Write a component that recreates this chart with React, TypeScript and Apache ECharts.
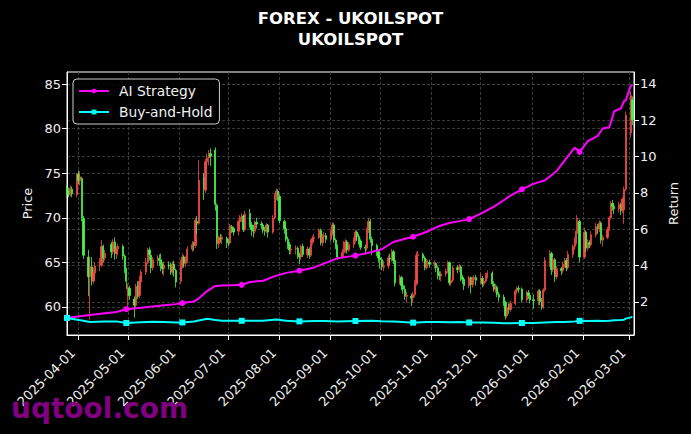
import React, { useEffect, useRef } from 'react';
import * as echarts from 'echarts';

// ---- candlestick data (daily) ----
const dates = [
  '2025-03-25','2025-03-26','2025-03-27','2025-03-28','2025-03-31',
  '2025-04-01','2025-04-02','2025-04-03','2025-04-04','2025-04-07','2025-04-08','2025-04-09','2025-04-10','2025-04-11',
  '2025-04-14','2025-04-15','2025-04-16','2025-04-17','2025-04-21','2025-04-22','2025-04-23','2025-04-24','2025-04-25',
  '2025-04-28','2025-04-29','2025-04-30',
  '2025-05-01','2025-05-02','2025-05-05','2025-05-06','2025-05-07','2025-05-08','2025-05-09','2025-05-12','2025-05-13',
  '2025-05-14','2025-05-15','2025-05-16','2025-05-19','2025-05-20','2025-05-21','2025-05-22','2025-05-23','2025-05-26',
  '2025-05-27','2025-05-28','2025-05-29','2025-05-30',
  '2025-06-02','2025-06-03','2025-06-04','2025-06-05','2025-06-06','2025-06-09','2025-06-10','2025-06-11','2025-06-12',
  '2025-06-13','2025-06-16','2025-06-17','2025-06-18','2025-06-19','2025-06-20','2025-06-23','2025-06-24','2025-06-25',
  '2025-06-26','2025-06-27','2025-06-30',
  '2025-07-01','2025-07-02','2025-07-03','2025-07-04','2025-07-07','2025-07-08','2025-07-09','2025-07-10','2025-07-11',
  '2025-07-14','2025-07-15','2025-07-16','2025-07-17','2025-07-18','2025-07-21','2025-07-22','2025-07-23','2025-07-24',
  '2025-07-25','2025-07-28','2025-07-29','2025-07-30','2025-07-31',
  '2025-08-01','2025-08-04','2025-08-05','2025-08-06','2025-08-07','2025-08-08','2025-08-11','2025-08-12','2025-08-13',
  '2025-08-14','2025-08-15','2025-08-18','2025-08-19','2025-08-20','2025-08-21','2025-08-22','2025-08-25','2025-08-26',
  '2025-08-27','2025-08-28','2025-08-29',
  '2025-09-01','2025-09-02','2025-09-03','2025-09-04','2025-09-05','2025-09-08','2025-09-09','2025-09-10','2025-09-11',
  '2025-09-12','2025-09-15','2025-09-16','2025-09-17','2025-09-18','2025-09-19','2025-09-22','2025-09-23','2025-09-24',
  '2025-09-25','2025-09-26','2025-09-29','2025-09-30',
  '2025-10-01','2025-10-02','2025-10-03','2025-10-06','2025-10-07','2025-10-08','2025-10-09','2025-10-10','2025-10-13',
  '2025-10-14','2025-10-15','2025-10-16','2025-10-17','2025-10-20','2025-10-21','2025-10-22','2025-10-23','2025-10-24',
  '2025-10-27','2025-10-28','2025-10-29','2025-10-30','2025-10-31',
  '2025-11-03','2025-11-04','2025-11-05','2025-11-06','2025-11-07','2025-11-10','2025-11-11','2025-11-12','2025-11-13',
  '2025-11-14','2025-11-17','2025-11-18','2025-11-19','2025-11-20','2025-11-21','2025-11-24','2025-11-25','2025-11-26',
  '2025-11-27','2025-11-28',
  '2025-12-01','2025-12-02','2025-12-03','2025-12-04','2025-12-05','2025-12-08','2025-12-09','2025-12-10','2025-12-11',
  '2025-12-12','2025-12-15','2025-12-16','2025-12-17','2025-12-18','2025-12-19','2025-12-22','2025-12-23','2025-12-24',
  '2025-12-26','2025-12-29','2025-12-30','2025-12-31',
  '2026-01-02','2026-01-05','2026-01-06','2026-01-07','2026-01-08','2026-01-09','2026-01-12','2026-01-13','2026-01-14',
  '2026-01-15','2026-01-16','2026-01-19','2026-01-20','2026-01-21','2026-01-22','2026-01-23','2026-01-26','2026-01-27',
  '2026-01-28','2026-01-29','2026-01-30',
  '2026-02-02','2026-02-03','2026-02-04','2026-02-05','2026-02-06','2026-02-09','2026-02-10','2026-02-11','2026-02-12',
  '2026-02-13','2026-02-16','2026-02-17','2026-02-18','2026-02-19','2026-02-20','2026-02-23','2026-02-24','2026-02-25',
  '2026-02-26','2026-02-27',
  '2026-03-02','2026-03-03',
];

const opens = [
  73.4,73.0,72.6,73.2,72.6,
  74.9,74.2,74.4,69.9,65.6,63.4,64.5,62.9,63.8,
  64.7,64.7,66.8,65.5,67.0,66.2,67.3,66.0,66.5,
  66.8,65.7,64.2,
  61.2,62.1,60.9,60.2,62.4,61.3,62.8,63.9,65.0,
  66.4,65.8,64.4,65.3,65.4,65.3,64.8,64.3,64.7,
  64.6,63.9,64.8,64.1,
  62.9,64.6,65.6,64.9,65.3,66.5,67.0,66.9,69.6,
  69.4,74.5,73.1,76.3,76.7,77.2,77.6,71.4,67.1,
  67.7,67.6,67.7,
  67.3,67.2,69.0,68.8,68.5,69.6,70.1,70.2,68.7,
  70.5,69.2,68.7,68.5,69.5,69.3,69.2,68.6,68.5,
  69.2,68.4,70.0,72.5,73.0,
  72.4,69.6,68.8,67.6,67.0,66.4,66.5,66.6,65.8,
  65.6,66.8,65.9,66.5,65.8,67.4,67.7,67.8,68.6,
  67.2,67.9,68.0,
  67.6,68.2,69.2,67.5,66.8,65.6,66.1,66.4,67.3,
  66.4,67.0,67.5,68.4,67.9,67.4,66.7,66.6,68.6,
  69.6,67.6,66.9,66.2,
  65.5,65.3,64.5,64.6,65.5,65.4,66.2,65.2,62.7,
  63.3,62.4,62.0,61.2,61.2,61.0,61.4,62.6,65.8,
  65.9,65.5,64.4,64.9,65.0,
  64.8,64.9,64.4,63.6,63.5,63.7,64.0,65.0,62.7,
  63.0,64.4,64.2,64.5,63.3,63.1,62.4,63.3,62.5,
  63.1,63.3,
  63.0,63.2,62.6,62.9,63.5,63.8,62.6,62.0,62.2,
  61.4,61.1,60.5,59.0,59.9,59.7,60.4,61.8,62.1,
  62.0,60.8,61.6,61.3,
  60.8,60.7,61.8,60.6,60.0,61.9,65.2,66.0,64.2,
  65.3,63.4,64.3,64.1,64.8,65.2,64.4,65.9,66.8,
  67.4,68.5,69.6,
  65.6,68.4,66.6,67.2,67.0,68.1,69.0,68.8,69.4,
  67.5,67.8,68.7,70.0,71.6,71.3,71.0,71.5,70.8,
  70.9,73.2,
  79.5,83.2,
];

const closes = [
  72.9,72.6,73.3,72.7,74.8,
  74.2,74.6,70.0,65.8,63.4,64.5,62.9,63.8,64.6,
  64.7,66.8,65.5,66.0,66.2,67.3,66.0,66.5,66.8,
  65.7,64.2,62.9,
  62.2,61.3,60.2,62.3,61.2,62.9,63.9,65.0,66.4,
  65.9,64.4,65.3,65.5,65.2,64.8,64.3,64.7,64.6,
  63.9,64.8,64.2,62.8,
  64.6,65.6,64.9,65.3,66.5,67.0,66.9,69.7,69.4,
  74.2,73.2,76.3,76.7,77.2,76.9,71.5,67.1,67.8,
  67.6,67.8,67.3,
  67.2,69.1,68.8,68.4,69.6,70.1,70.2,68.7,70.4,
  69.2,68.7,68.5,69.5,69.3,69.2,68.6,68.5,69.2,
  68.4,70.0,72.5,73.0,72.5,
  69.7,68.8,67.6,67.0,66.4,66.5,66.6,65.8,65.6,
  66.8,65.9,66.5,65.8,67.4,67.7,67.8,68.6,67.2,
  67.9,68.0,67.6,
  68.2,69.2,67.5,66.8,65.6,66.1,66.4,67.3,66.4,
  67.0,67.5,68.4,67.9,67.4,66.7,66.6,68.6,69.6,
  67.6,66.9,66.2,65.5,
  65.3,64.5,64.6,65.5,65.4,66.2,65.2,62.7,63.3,
  62.4,62.0,61.2,61.3,61.0,61.4,62.6,65.8,65.9,
  65.5,64.4,64.9,65.0,64.8,
  64.9,64.4,63.6,63.5,63.7,64.0,65.0,62.7,63.0,
  64.4,64.2,64.5,63.3,63.1,62.4,63.3,62.5,63.1,
  63.3,63.0,
  63.2,62.6,62.9,63.5,63.8,62.6,62.0,62.2,61.4,
  61.1,60.5,59.0,59.9,59.7,60.4,61.8,62.1,62.0,
  60.8,61.6,61.3,60.8,
  60.7,61.8,60.6,60.0,61.9,65.2,66.0,64.2,65.3,
  63.4,64.3,64.1,64.8,65.2,64.4,65.9,66.8,67.4,
  68.5,69.6,65.6,
  68.4,66.6,67.2,67.0,68.1,69.0,68.8,69.4,67.5,
  67.8,68.7,70.0,71.6,71.3,71.0,71.5,70.8,72.1,
  73.2,81.5,
  83.7,81.0,
];

const lows = [
  72.5,72.3,72.4,72.3,72.3,
  73.8,73.6,69.6,65.4,61.2,58.6,62.4,62.6,63.2,
  64.0,64.5,65.0,65.2,65.5,65.9,65.3,65.4,65.8,
  65.3,63.8,62.0,
  60.0,60.8,58.8,59.9,60.9,61.0,62.6,63.6,64.8,
  65.2,63.8,64.1,64.7,64.6,64.0,63.7,63.5,64.2,
  63.6,63.6,63.4,62.2,
  62.6,64.3,64.4,64.5,65.0,66.2,66.3,66.6,68.2,
  69.2,72.0,72.8,75.5,75.9,75.8,70.8,66.5,66.6,
  67.2,67.0,66.6,
  66.8,67.0,68.3,68.0,68.0,69.0,69.5,68.4,68.5,
  68.9,68.0,67.8,68.2,68.8,68.7,68.3,68.0,68.3,
  67.8,68.2,69.8,72.0,71.9,
  69.4,68.2,67.3,66.5,65.9,65.9,65.9,65.4,64.8,
  65.3,65.6,65.5,65.4,65.6,67.0,67.2,67.6,66.9,
  66.8,67.4,67.2,
  67.3,68.0,67.2,66.5,65.3,65.4,65.6,66.1,66.0,
  66.2,66.6,67.2,67.4,67.0,66.4,65.9,66.3,68.3,
  67.2,65.8,65.7,65.0,
  64.3,64.1,64.0,64.3,64.9,65.1,64.8,62.3,62.5,
  61.9,61.5,60.8,60.5,60.1,60.5,61.1,62.4,65.1,
  65.1,64.1,64.2,64.4,64.4,
  64.3,63.9,63.1,63.0,62.9,63.4,63.8,62.4,62.4,
  62.8,63.8,63.9,62.9,62.6,61.9,62.1,61.5,62.2,
  62.8,62.4,
  62.6,62.2,62.3,62.7,63.2,62.3,61.7,61.6,61.1,
  60.6,60.1,58.6,58.8,59.2,59.5,60.2,61.4,61.6,
  60.5,60.5,60.9,60.4,
  59.8,60.2,60.2,59.7,59.8,61.7,64.5,63.6,63.9,
  62.8,63.1,63.6,63.8,64.4,64.0,64.2,65.5,66.4,
  67.0,68.2,65.0,
  65.4,66.2,66.3,66.6,66.8,67.8,68.2,68.4,67.1,
  66.8,67.6,68.5,69.8,70.8,70.4,70.6,70.3,70.5,
  69.3,73.0,
  79.0,80.4,
];

const highs = [
  73.6,73.4,73.6,73.5,75.0,
  75.3,75.2,74.6,70.2,66.4,65.6,65.6,64.4,65.0,
  65.5,67.5,67.0,66.4,67.3,67.6,67.8,66.8,67.1,
  67.0,65.9,64.4,
  62.6,62.4,61.2,62.6,62.9,63.5,64.2,65.5,66.6,
  66.7,65.9,65.6,65.8,65.9,66.0,65.0,65.1,65.1,
  65.0,65.1,65.2,64.3,
  65.3,66.0,65.8,65.7,66.8,67.4,67.3,70.0,70.2,
  76.5,75.0,76.6,77.2,77.6,77.8,77.9,71.6,68.0,
  68.2,68.1,67.9,
  67.6,69.3,69.2,69.0,69.8,70.3,70.5,70.4,70.8,
  71.0,69.5,69.2,69.7,70.0,69.6,69.4,69.0,69.4,
  69.3,70.3,72.7,73.3,73.2,
  72.6,69.8,69.0,67.9,67.3,66.8,66.9,66.8,66.1,
  67.0,67.1,66.8,66.7,67.6,68.0,68.2,68.8,68.8,
  68.2,68.4,68.3,
  68.6,69.5,69.4,67.7,67.0,66.5,67.4,67.6,67.5,
  67.3,67.8,68.6,68.6,68.2,67.6,67.0,68.9,70.0,
  69.9,67.9,67.1,66.4,
  65.8,65.6,65.2,65.8,66.0,66.5,66.4,65.4,63.6,
  63.5,62.7,62.4,61.7,61.5,61.7,63.0,66.2,66.3,
  66.1,65.7,65.4,65.3,65.3,
  65.2,65.0,64.6,64.0,64.0,64.3,65.2,65.1,63.4,
  64.6,64.7,64.8,64.7,63.6,63.3,63.5,63.4,63.4,
  63.6,63.6,
  63.8,63.5,63.2,63.8,64.1,64.0,62.9,62.6,62.4,
  61.7,61.4,60.7,60.3,60.4,60.7,62.0,62.3,62.4,
  62.2,61.8,61.9,61.5,
  61.4,62.0,62.0,61.0,62.1,65.6,66.4,66.2,65.6,
  65.5,64.6,64.5,65.1,65.5,65.5,66.3,67.0,67.8,
  70.3,70.0,69.8,
  68.9,68.6,67.6,67.5,68.5,69.4,69.3,69.7,69.6,
  68.1,69.0,70.2,71.9,72.0,71.6,71.8,71.7,72.3,
  73.5,81.9,
  84.2,83.6,
];

// ---- strategy return lines ----
const lineDates = [
  '2025-03-25','2025-04-03','2025-04-08','2025-04-17','2025-04-24','2025-04-30','2025-05-09','2025-05-16','2025-05-23',
  '2025-05-30','2025-06-03','2025-06-10','2025-06-13','2025-06-18','2025-06-23','2025-06-27','2025-07-03','2025-07-09',
  '2025-07-14','2025-07-22','2025-07-30','2025-08-05','2025-08-13','2025-08-22','2025-08-29','2025-09-05','2025-09-16',
  '2025-09-26','2025-10-02','2025-10-09','2025-10-15','2025-10-21','2025-10-29','2025-11-05','2025-11-12','2025-11-18',
  '2025-11-24','2025-12-02','2025-12-09','2025-12-15','2025-12-19','2025-12-26','2026-01-02','2026-01-09','2026-01-16',
  '2026-01-21','2026-01-27','2026-01-30','2026-02-04','2026-02-10','2026-02-13','2026-02-17','2026-02-20','2026-02-24',
  '2026-02-26','2026-02-27','2026-03-02','2026-03-03',
];
const aiStrategy = [
  1.12,1.22,1.28,1.38,1.45,1.6,1.68,1.75,1.82,
  1.88,1.94,2.02,2.2,2.6,2.88,2.9,2.92,2.94,
  3.1,3.17,3.45,3.6,3.72,3.9,4.15,4.4,4.55,
  4.75,4.9,5.3,5.45,5.59,5.85,6.15,6.35,6.45,
  6.56,6.9,7.25,7.6,7.85,8.2,8.5,8.7,9.2,
  9.8,10.5,10.26,10.85,11.15,11.55,11.62,12.5,12.65,
  13.05,13.1,13.9,13.95,
];
const buyAndHold = [
  1.12,0.98,0.9,0.93,0.93,0.84,0.88,0.91,0.9,
  0.87,0.87,0.92,0.98,1.07,1.0,0.96,0.96,0.96,
  0.97,0.96,1.03,0.96,0.93,0.95,0.95,0.93,0.95,
  0.97,0.94,0.93,0.89,0.86,0.9,0.9,0.88,0.89,
  0.87,0.87,0.85,0.83,0.83,0.84,0.84,0.87,0.89,
  0.9,0.93,0.96,0.95,0.96,0.95,0.97,0.99,1.0,
  1.02,1.08,1.15,1.17,
];
const markerDates = [
  '2025-03-25','2025-04-30','2025-06-03','2025-07-09','2025-08-13','2025-09-16','2025-10-21','2025-11-24','2025-12-26','2026-01-30',
];

// ---- ticks ----
const monthTicks = [
  '2025-04-01','2025-05-01','2025-06-01','2025-07-01','2025-08-01','2025-09-01','2025-10-01','2025-11-01',
  '2025-12-01','2026-01-01','2026-02-01','2026-03-01',
];
const priceTicks = [60, 65, 70, 75, 80, 85];
const returnTicks = [2, 4, 6, 8, 10, 12, 14];

const FONT = 'DejaVu Sans';

function pad(n: number) {
  return n < 10 ? '0' + n : '' + n;
}
function fmtDate(v: number) {
  const d = new Date(v);
  return d.getFullYear() + '-' + pad(d.getMonth() + 1) + '-' + pad(d.getDate());
}
function localTime(s: string) {
  return new Date(s + 'T00:00:00').getTime();
}

export default function App() {
  const ref = useRef<HTMLDivElement>(null);
  useEffect(() => {
    if (!ref.current) return;
    const chart = echarts.init(ref.current, null, { renderer: 'svg' });

    const candleData = dates.map((d, i) => [localTime(d), opens[i], closes[i], lows[i], highs[i]]);
    const markerSet = new Set(markerDates);
    const aiData = lineDates.map((d, i) => ({
      value: [localTime(d), aiStrategy[i]],
      symbol: markerSet.has(d) ? 'circle' : 'none',
    }));
    const bhData = lineDates.map((d, i) => ({
      value: [localTime(d), buyAndHold[i]],
      symbol: markerSet.has(d) ? 'rect' : 'none',
    }));
    const monthTickValues = monthTicks.map(localTime);

    const gridLine = { show: true, lineStyle: { color: '#474747', type: [3, 2], width: 0.8 } };
    const axisLabelBase = { color: '#f0f0f0', fontSize: 13, fontFamily: FONT };

    chart.setOption({
      animation: false,
      backgroundColor: '#000',
      textStyle: { fontFamily: FONT },
      grid: {
        left: 67, right: 57, top: 72, bottom: 99,
        show: true, borderColor: '#ffffff', borderWidth: 1,
        backgroundColor: 'transparent',
        containLabel: false,
        outerBoundsMode: 'none',
      },
      legend: {
        data: ['AI Strategy', 'Buy-and-Hold'],
        orient: 'vertical',
        left: 73, top: 79,
        padding: [5, 7, 5, 5],
        itemWidth: 30, itemHeight: 6, itemGap: 7,
        backgroundColor: 'rgba(0,0,0,0.85)',
        borderColor: '#cccccc', borderWidth: 1, borderRadius: 4,
        textStyle: { color: '#f0f0f0', fontSize: 13.8, fontFamily: FONT, lineHeight: 14, padding: [0, 0, 0, 5] },
      },
      xAxis: {
        type: 'value',
        min: localTime('2025-03-25'),
        max: localTime('2026-03-04'),
        axisLine: { show: true, onZero: false, lineStyle: { color: '#ffffff', width: 1 } },
        axisTick: { show: true, length: 5, lineStyle: { color: '#ffffff' }, customValues: monthTickValues },
        axisLabel: {
          ...axisLabelBase, rotate: 45, margin: 10, hideOverlap: false,
          padding: [0, 8, 0, 0],
          customValues: monthTickValues,
          formatter: (v: number) => fmtDate(v),
        },
        splitLine: gridLine,
      },
      yAxis: [
        {
          type: 'value', position: 'left', min: 56.86, max: 86.35,
          name: 'Price', nameLocation: 'middle', nameGap: 33,
          nameTextStyle: { color: '#f0f0f0', fontSize: 13, fontFamily: FONT },
          axisLine: { show: true, lineStyle: { color: '#ffffff' } },
          axisTick: { show: true, length: 5, lineStyle: { color: '#ffffff' }, customValues: priceTicks },
          axisLabel: { ...axisLabelBase, margin: 6, customValues: priceTicks },
          splitLine: gridLine,
        },
        {
          type: 'value', position: 'right', min: 0.18, max: 14.66,
          name: 'Return', nameLocation: 'middle', nameGap: 33,
          nameTextStyle: { color: '#f0f0f0', fontSize: 13, fontFamily: FONT },
          axisLine: { show: true, lineStyle: { color: '#ffffff' } },
          axisTick: { show: true, length: 5, lineStyle: { color: '#ffffff' }, customValues: returnTicks },
          axisLabel: { ...axisLabelBase, margin: 6, customValues: returnTicks },
          splitLine: gridLine,
        },
      ],
      series: [
        {
          type: 'candlestick',
          name: 'UKOILSPOT',
          xAxisIndex: 0, yAxisIndex: 0,
          data: candleData,
          barWidth: 1.8,
          itemStyle: {
            color: '#f24a44', borderColor: '#f24a44',
            color0: '#4af24a', borderColor0: '#4af24a',
            borderWidth: 0.8,
          },
          z: 2,
        },
        {
          type: 'line', name: 'AI Strategy', xAxisIndex: 0, yAxisIndex: 1,
          data: aiData, symbol: 'circle', symbolSize: 6, showSymbol: true,
          lineStyle: { color: '#ff00ff', width: 2 }, itemStyle: { color: '#ff00ff' },
          z: 5,
        },
        {
          type: 'line', name: 'Buy-and-Hold', xAxisIndex: 0, yAxisIndex: 1,
          data: bhData, symbol: 'rect', symbolSize: 6, showSymbol: true,
          lineStyle: { color: '#00ffff', width: 2 }, itemStyle: { color: '#00ffff' },
          z: 5,
        },
      ],
      graphic: [
        {
          type: 'text', x: 350.5, y: 18, z: 10,
          style: { text: 'FOREX - UKOILSPOT', fill: '#ffffff', font: `bold 16.5px "${FONT}"`, align: 'center', verticalAlign: 'middle' },
        },
        {
          type: 'text', x: 350.5, y: 39, z: 10,
          style: { text: 'UKOILSPOT', fill: '#ffffff', font: `bold 16.5px "${FONT}"`, align: 'center', verticalAlign: 'middle' },
        },
        {
          type: 'text', x: 11, y: 408, z: 100,
          style: { text: 'uqtool.com', fill: '#800080', font: `bold 28px "${FONT}"`, align: 'left', verticalAlign: 'middle' },
        },
      ],
    });

    return () => chart.dispose();
  }, []);

  return <div ref={ref} style={{ position: 'fixed', left: 0, top: 0, width: 691, height: 434 }} />;
}
